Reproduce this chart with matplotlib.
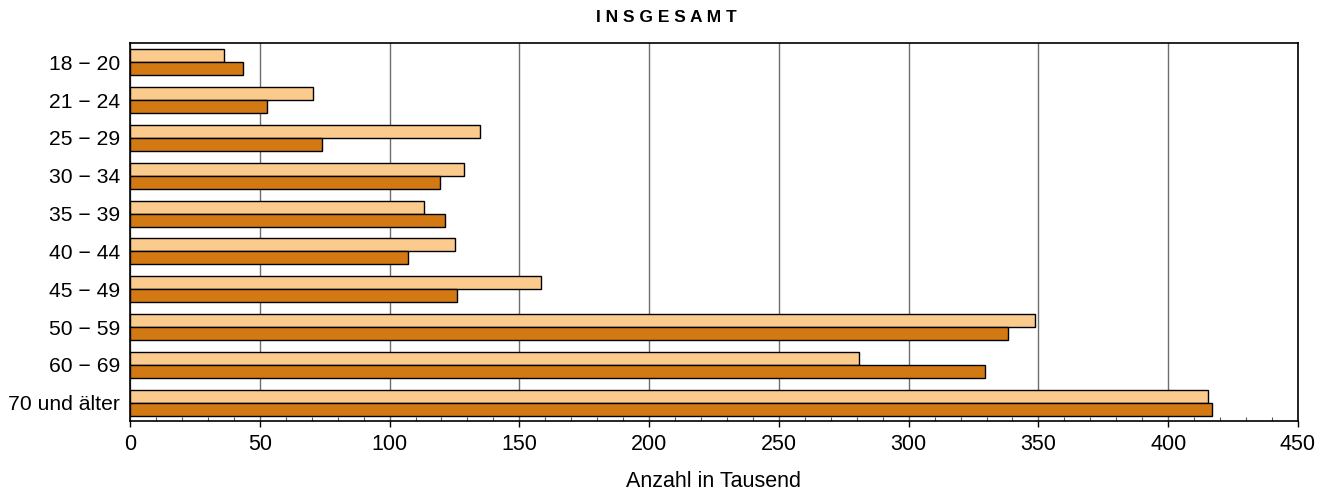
import matplotlib
matplotlib.use("Agg")
import matplotlib.pyplot as plt
from matplotlib.ticker import MultipleLocator
import numpy as np

categories = ["18 − 20", "21 − 24", "25 − 29", "30 − 34", "35 − 39",
              "40 − 44", "45 − 49", "50 − 59", "60 − 69", "70 und älter"]
series_light = [36.2, 70.5, 134.9, 128.7, 113.4, 125.3, 158.2, 348.5, 280.8, 415.5]
series_dark = [43.7, 52.7, 73.8, 119.6, 121.5, 107.1, 126.0, 338.1, 329.4, 417.0]
x_ticks = [0, 50, 100, 150, 200, 250, 300, 350, 400, 450]

plt.rcParams['font.family'] = ['Liberation Sans', 'DejaVu Sans']

fig = plt.figure(figsize=(13.33, 4.96), dpi=100)
ax = fig.add_axes([130 / 1333, 1 - 421 / 496, 1168 / 1333, (421 - 42.7) / 496])

y = np.arange(len(categories))
h = 0.344
light_c = "#FBCB8E"
dark_c = "#D27914"
ax.barh(y - h / 2, series_light, height=h, color=light_c, edgecolor="black",
        linewidth=1.0, zorder=3)
ax.barh(y + h / 2, series_dark, height=h, color=dark_c, edgecolor="black",
        linewidth=1.0, zorder=3)

ax.set_xlim(0, 450)
ax.set_ylim(9.484, -0.518)
ax.set_xticks(x_ticks)
ax.set_xticklabels([str(v) for v in x_ticks], fontsize=15.5)
ax.xaxis.set_minor_locator(MultipleLocator(10))
ax.tick_params(axis='x', which='major', direction='out', length=4, width=1, pad=5)
ax.tick_params(axis='x', which='minor', direction='in', length=3, width=0.8, color="#555555")
ax.set_yticks(y)
ax.set_yticklabels(categories, fontsize=15.2)
ax.tick_params(axis='y', length=0, pad=7)

ax.grid(axis='x', which='major', color="#6e6e6e", linewidth=1.0, zorder=1)
for s in ax.spines.values():
    s.set_linewidth(1.2)
    s.set_color("black")

ax.set_xlabel("Anzahl in Tausend", fontsize=15.5, labelpad=12)
fig.text(666 / 1333, 1 - 18 / 496, "I N S G E S A M T", ha='center', va='center',
         fontsize=12.5, fontweight='bold')

fig.savefig("out.png", dpi=100)
